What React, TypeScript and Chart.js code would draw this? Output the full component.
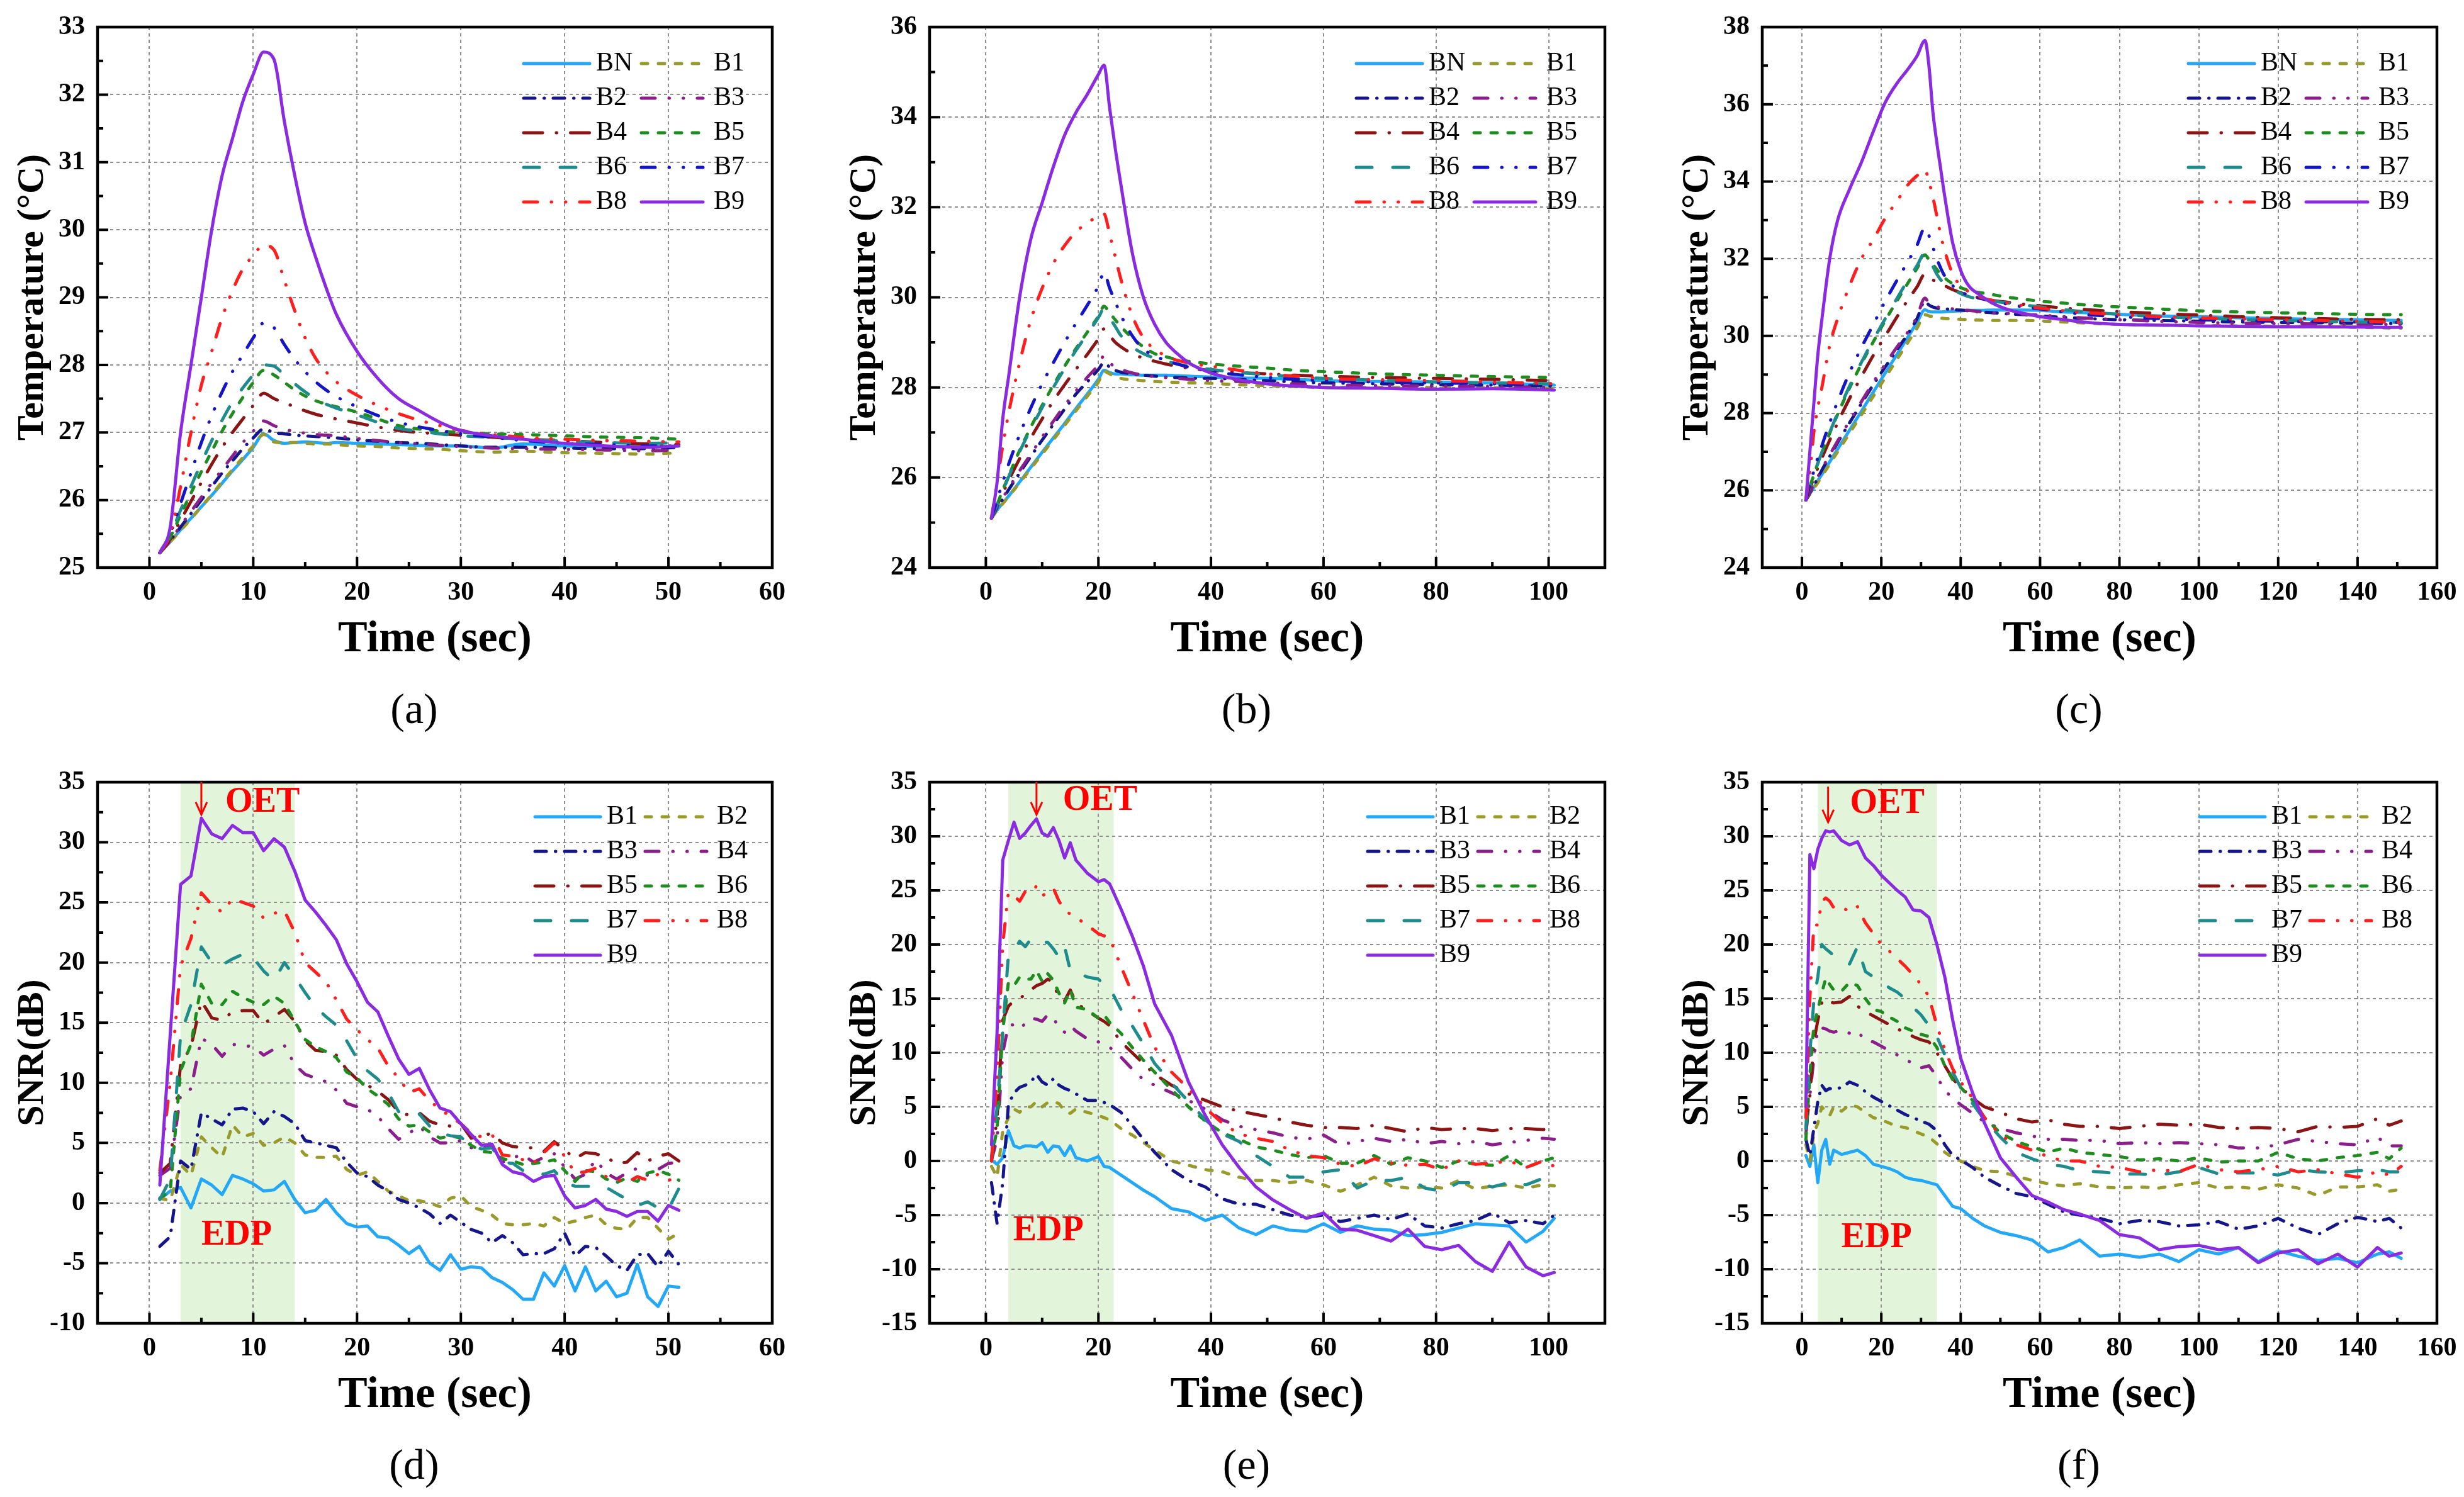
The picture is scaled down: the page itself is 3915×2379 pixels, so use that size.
import { useEffect, useRef } from "react"
import { Chart, registerables } from "chart.js"

Chart.register(...registerables)

const SERIF = '"Liberation Serif", "Times New Roman", serif'

// ---------- (a) temperature, 10 s excitation ----------
const aTime = [1, 2, 3, 4, 5, 6, 7, 8, 9, 10, 11, 12, 13, 14, 15, 16, 17, 18, 20, 22, 24, 26, 28, 30, 33, 36, 40, 44, 48, 51]
const aBN = [25.22, 25.38, 25.56, 25.73, 25.9, 26.07, 26.25, 26.43, 26.6, 26.78, 26.98, 26.88, 26.84, 26.85, 26.86, 26.85, 26.84, 26.85, 26.84, 26.83, 26.82, 26.81, 26.8, 26.8, 26.77, 26.83, 26.8, 26.79, 26.79, 26.8]
const aB1 = [25.22, 25.38, 25.55, 25.72, 25.9, 26.08, 26.27, 26.45, 26.63, 26.8, 26.97, 26.86, 26.85, 26.85, 26.84, 26.83, 26.83, 26.82, 26.8, 26.79, 26.77, 26.76, 26.75, 26.73, 26.71, 26.72, 26.7, 26.69, 26.68, 26.7]
const aB2 = [25.22, 25.4, 25.6, 25.8, 26.0, 26.2, 26.4, 26.58, 26.76, 26.92, 27.05, 27.0, 26.98, 26.96, 26.95, 26.94, 26.93, 26.92, 26.89, 26.87, 26.85, 26.84, 26.82, 26.8, 26.78, 26.78, 26.77, 26.76, 26.76, 26.78]
const aB3 = [25.22, 25.4, 25.62, 25.83, 26.04, 26.25, 26.45, 26.65, 26.85, 27.02, 27.17, 27.1, 27.05, 27.01, 26.99, 26.97, 26.96, 26.95, 26.91, 26.88, 26.85, 26.83, 26.81, 26.79, 26.77, 26.76, 26.75, 26.74, 26.73, 26.74]
const aB4 = [25.22, 25.42, 25.7, 25.98, 26.26, 26.53, 26.78, 27.0, 27.2, 27.4, 27.58, 27.5, 27.44, 27.38, 27.32, 27.27, 27.23, 27.2, 27.14, 27.08, 27.03, 27.0, 26.98, 26.96, 26.93, 26.9, 26.88, 26.85, 26.83, 26.82]
const aB5 = [25.22, 25.45, 25.78, 26.1, 26.42, 26.72, 27.02, 27.28, 27.52, 27.74, 27.92, 27.85, 27.74, 27.63, 27.54, 27.47, 27.42, 27.38, 27.3, 27.2, 27.1, 27.05, 27.02, 27.0, 26.98, 26.97, 26.95, 26.93, 26.92, 26.9]
const aB6 = [25.22, 25.48, 25.85, 26.2, 26.55, 26.88, 27.18, 27.45, 27.66, 27.85, 28.0, 27.98, 27.85, 27.72, 27.6, 27.5, 27.42, 27.36, 27.26, 27.15, 27.06, 27.02, 26.98, 26.95, 26.93, 26.9, 26.87, 26.85, 26.84, 26.85]
const aB7 = [25.22, 25.5, 25.95, 26.4, 26.85, 27.25, 27.6, 27.9, 28.15, 28.4, 28.62, 28.55, 28.3, 28.08, 27.9, 27.75, 27.63, 27.53, 27.38, 27.25, 27.15, 27.08, 27.03, 26.98, 26.93, 26.88, 26.84, 26.82, 26.8, 26.8]
const aB8 = [25.22, 25.5, 26.2, 27.0, 27.7, 28.2, 28.7, 29.1, 29.42, 29.62, 29.77, 29.7, 29.25, 28.8, 28.4, 28.1, 27.9, 27.75, 27.55, 27.4, 27.28, 27.18, 27.1, 27.03, 26.97, 26.93, 26.9, 26.88, 26.87, 26.86]
const aB9 = [25.22, 25.6, 27.0, 28.0, 29.0, 30.0, 30.8, 31.35, 31.9, 32.3, 32.63, 32.52, 31.6, 30.8, 30.1, 29.6, 29.15, 28.75, 28.2, 27.8, 27.5, 27.32, 27.15, 27.03, 26.95, 26.9, 26.84, 26.8, 26.78, 26.8]

// ---------- (b) temperature, 20 s excitation ----------
const bTime = [1, 2, 3, 4, 6, 8, 10, 12, 14, 16, 18, 20, 21, 22, 23, 24, 26, 28, 30, 32, 34, 36, 38, 40, 45, 50, 55, 60, 70, 80, 90, 101]
const bBN = [25.1, 25.28, 25.43, 25.58, 25.9, 26.23, 26.56, 26.88, 27.2, 27.53, 27.85, 28.18, 28.38, 28.33, 28.3, 28.3, 28.28, 28.27, 28.27, 28.27, 28.26, 28.25, 28.24, 28.23, 28.21, 28.2, 28.18, 28.15, 28.13, 28.12, 28.1, 28.05]
const bB1 = [25.1, 25.27, 25.42, 25.57, 25.88, 26.2, 26.52, 26.84, 27.16, 27.48, 27.8, 28.12, 28.36, 28.3, 28.25, 28.2, 28.17, 28.15, 28.13, 28.12, 28.11, 28.1, 28.1, 28.09, 28.06, 28.04, 28.02, 28.0, 28.0, 28.0, 27.99, 27.98]
const bB2 = [25.1, 25.33, 25.52, 25.72, 26.1, 26.47, 26.83, 27.18, 27.52, 27.85, 28.12, 28.4, 28.55, 28.45, 28.38, 28.34, 28.3, 28.27, 28.25, 28.23, 28.22, 28.21, 28.2, 28.2, 28.18, 28.15, 28.12, 28.1, 28.08, 28.06, 28.05, 28.03]
const bB3 = [25.1, 25.35, 25.55, 25.75, 26.15, 26.52, 26.9, 27.25, 27.6, 27.92, 28.22, 28.5, 28.7, 28.55, 28.45, 28.4, 28.32, 28.27, 28.24, 28.22, 28.2, 28.18, 28.17, 28.15, 28.13, 28.1, 28.08, 28.06, 28.04, 28.03, 28.02, 28.0]
const bB4 = [25.1, 25.38, 25.65, 25.92, 26.42, 26.88, 27.3, 27.7, 28.06, 28.4, 28.73, 29.08, 29.3, 29.15, 29.0, 28.9, 28.75, 28.65, 28.58, 28.52, 28.47, 28.43, 28.4, 28.38, 28.33, 28.3, 28.27, 28.25, 28.22, 28.2, 28.18, 28.15]
const bB5 = [25.1, 25.4, 25.72, 26.02, 26.6, 27.12, 27.6, 28.05, 28.47, 28.86, 29.22, 29.58, 29.8, 29.65, 29.5, 29.35, 29.1, 28.9, 28.75, 28.68, 28.62, 28.58, 28.55, 28.52, 28.47, 28.43, 28.38, 28.35, 28.3, 28.27, 28.24, 28.22]
const bB6 = [25.1, 25.4, 25.7, 26.0, 26.57, 27.08, 27.55, 28.0, 28.42, 28.82, 29.18, 29.55, 29.75, 29.55, 29.35, 29.15, 28.9, 28.75, 28.65, 28.58, 28.52, 28.47, 28.43, 28.4, 28.33, 28.28, 28.24, 28.2, 28.16, 28.12, 28.1, 28.08]
const bB7 = [25.1, 25.5, 25.9, 26.28, 26.95, 27.55, 28.08, 28.55, 29.0, 29.42, 29.82, 30.25, 30.55, 30.2, 29.9, 29.6, 29.15, 28.85, 28.7, 28.6, 28.52, 28.45, 28.4, 28.35, 28.28, 28.22, 28.18, 28.15, 28.12, 28.1, 28.08, 28.05]
const bB8 = [25.1, 25.9, 26.7, 27.4, 28.55, 29.5, 30.2, 30.75, 31.15, 31.45, 31.65, 31.8, 31.85, 31.4, 30.9, 30.4, 29.6, 29.1, 28.85, 28.7, 28.6, 28.55, 28.5, 28.47, 28.38, 28.3, 28.25, 28.2, 28.17, 28.15, 28.12, 28.08]
const bB9 = [25.1, 25.9, 27.3, 28.2, 30.0, 31.3, 32.1, 32.9, 33.6, 34.1, 34.5, 34.95, 35.15, 34.2, 33.3, 32.5, 31.0, 30.0, 29.4, 29.0, 28.75, 28.55, 28.42, 28.32, 28.17, 28.08, 28.03, 28.0, 27.98, 27.96, 27.97, 27.94]

// ---------- (c) temperature, 30 s excitation ----------
const cTime = [1, 2, 3, 4, 5, 7, 9, 12, 15, 18, 21, 24, 27, 29, 31, 32, 33, 34, 35, 36, 38, 40, 42, 45, 48, 52, 56, 60, 66, 72, 80, 90, 100, 110, 120, 130, 140, 151]
const cBN = [25.75, 25.92, 26.08, 26.25, 26.41, 26.74, 27.07, 27.56, 28.05, 28.55, 29.04, 29.53, 30.02, 30.35, 30.68, 30.63, 30.62, 30.62, 30.62, 30.63, 30.64, 30.65, 30.66, 30.66, 30.67, 30.67, 30.67, 30.66, 30.62, 30.6, 30.56, 30.52, 30.5, 30.47, 30.45, 30.43, 30.42, 30.4]
const cB1 = [25.75, 25.9, 26.05, 26.2, 26.36, 26.68, 27.0, 27.48, 27.96, 28.44, 28.92, 29.4, 29.88, 30.2, 30.55, 30.52, 30.5, 30.48, 30.46, 30.45, 30.44, 30.43, 30.42, 30.41, 30.4, 30.4, 30.4, 30.39, 30.36, 30.33, 30.3, 30.28, 30.27, 30.26, 30.25, 30.24, 30.22, 30.2]
const cB2 = [25.75, 25.93, 26.12, 26.32, 26.52, 26.88, 27.24, 27.75, 28.25, 28.74, 29.2, 29.65, 30.1, 30.45, 30.9, 30.8, 30.75, 30.72, 30.7, 30.7, 30.68, 30.67, 30.65, 30.62, 30.6, 30.57, 30.55, 30.52, 30.48, 30.45, 30.42, 30.4, 30.38, 30.36, 30.35, 30.34, 30.33, 30.32]
const cB3 = [25.75, 25.95, 26.15, 26.35, 26.55, 26.92, 27.28, 27.8, 28.3, 28.8, 29.27, 29.72, 30.15, 30.5, 30.98, 30.85, 30.8, 30.76, 30.73, 30.72, 30.7, 30.68, 30.66, 30.63, 30.6, 30.58, 30.56, 30.54, 30.5, 30.46, 30.42, 30.38, 30.35, 30.33, 30.32, 30.31, 30.3, 30.3]
const cB4 = [25.75, 26.05, 26.32, 26.58, 26.83, 27.3, 27.75, 28.38, 28.95, 29.5, 30.0, 30.5, 30.98, 31.27, 31.6, 31.5, 31.45, 31.4, 31.35, 31.3, 31.2, 31.12, 31.05, 30.98, 30.92, 30.87, 30.82, 30.78, 30.72, 30.68, 30.63, 30.58, 30.54, 30.5, 30.47, 30.45, 30.43, 30.42]
const cB5 = [25.75, 26.1, 26.4, 26.7, 26.97, 27.48, 27.97, 28.65, 29.28, 29.85, 30.4, 30.92, 31.42, 31.75, 32.1, 31.98, 31.85, 31.72, 31.6, 31.5, 31.35, 31.25, 31.18, 31.12, 31.07, 31.0, 30.95, 30.9, 30.85, 30.8, 30.75, 30.7, 30.65, 30.62, 30.6, 30.58, 30.56, 30.55]
const cB6 = [25.75, 26.1, 26.4, 26.7, 26.98, 27.5, 28.0, 28.7, 29.32, 29.9, 30.45, 30.98, 31.5, 31.82, 32.15, 32.0, 31.8, 31.6, 31.45, 31.35, 31.2, 31.1, 31.02, 30.95, 30.9, 30.85, 30.8, 30.75, 30.68, 30.62, 30.56, 30.5, 30.46, 30.43, 30.4, 30.38, 30.36, 30.35]
const cB7 = [25.75, 26.15, 26.5, 26.85, 27.15, 27.75, 28.3, 29.05, 29.7, 30.3, 30.9, 31.45, 31.98, 32.35, 32.8, 32.6, 32.3, 32.0, 31.75, 31.55, 31.3, 31.15, 31.05, 30.97, 30.9, 30.82, 30.75, 30.7, 30.62, 30.55, 30.5, 30.45, 30.42, 30.4, 30.38, 30.37, 30.36, 30.35]
const cB8 = [25.75, 26.5, 27.5, 28.15, 28.65, 29.75, 30.45, 31.3, 32.0, 32.5, 33.05, 33.5, 33.95, 34.15, 34.3, 34.0, 33.6, 33.1, 32.6, 32.2, 31.6, 31.3, 31.15, 31.0, 30.92, 30.85, 30.78, 30.72, 30.65, 30.6, 30.55, 30.5, 30.47, 30.44, 30.42, 30.4, 30.38, 30.35]
const cB9 = [25.75, 27.0, 28.25, 29.5, 30.4, 32.0, 33.0, 33.8, 34.5, 35.3, 36.05, 36.55, 36.95, 37.25, 37.65, 37.0, 35.8, 35.0, 34.3, 33.6, 32.4, 31.7, 31.3, 31.05, 30.85, 30.68, 30.58, 30.5, 30.42, 30.35, 30.3, 30.28, 30.26, 30.25, 30.24, 30.24, 30.23, 30.22]

// ---------- (d) SNR, 10 s excitation ----------
const dTime = [1, 2, 3, 4, 5, 6, 7, 8, 9, 10, 11, 12, 13, 14, 15, 16, 17, 18, 19, 20, 21, 22, 23, 24, 25, 26, 27, 28, 29, 30, 31, 32, 33, 34, 35, 36, 37, 38, 39, 40, 41, 42, 43, 44, 45, 46, 47, 48, 49, 50, 51]
const dB1 = [0.3, 1.0, 1.3, -0.4, 2.0, 1.5, 0.7, 2.3, 2.0, 1.6, 1.0, 1.1, 1.8, 0.3, -0.8, -0.6, 0.3, -0.8, -1.7, -2.0, -1.9, -2.8, -2.9, -3.5, -4.2, -3.6, -5.0, -5.6, -4.3, -5.5, -5.3, -5.4, -6.2, -6.6, -7.2, -8.0, -8.0, -5.8, -6.9, -5.2, -7.3, -5.3, -7.3, -6.5, -7.8, -7.5, -5.1, -7.8, -8.6, -6.9, -7.0]
const dB2 = [0.4, 0.2, 3.2, 2.3, 5.5, 4.6, 3.8, 6.5, 5.5, 5.8, 4.8, 5.0, 5.5, 5.0, 4.0, 3.8, 3.8, 3.9, 2.8, 2.3, 2.6, 1.8, 1.0, 0.6, 0.2, 0.2, 0.0, -0.3, 0.4, 0.6, -0.3, -0.6, -1.0, -1.7, -1.8, -1.8, -1.7, -1.9, -1.2, -1.7, -1.5, -1.2, -1.0, -1.8, -2.1, -2.2, -1.2, -1.2, -2.1, -3.0, -2.5]
const dB3 = [-3.6, -2.8, 3.5, 2.8, 7.5, 7.0, 6.5, 7.8, 7.9, 7.6, 6.6, 7.6, 7.2, 6.6, 5.2, 5.0, 4.8, 4.6, 3.4, 2.5, 2.2, 1.5, 1.0, 0.3, 0.0, -0.4, -0.9, -1.7, -1.0, -1.6, -2.2, -2.5, -3.3, -2.7, -3.3, -4.3, -4.2, -4.2, -3.8, -2.5, -4.4, -3.6, -3.7, -4.4, -5.2, -5.6, -4.3, -4.2, -5.3, -4.0, -5.1]
const dB4 = [2.3, 2.9, 9.0, 9.5, 13.7, 13.2, 12.2, 13.2, 13.1, 13.0, 12.3, 12.8, 13.1, 11.5, 10.7, 10.4, 10.1, 9.4, 8.3, 8.0, 7.8, 7.2, 6.2, 5.3, 5.8, 6.4, 5.5, 5.0, 5.0, 5.2, 4.6, 4.6, 4.8, 3.4, 3.8, 4.0, 3.4, 3.8, 4.1, 3.0, 2.0, 2.4, 3.6, 2.5, 2.0, 2.5, 2.9, 2.3, 2.8, 3.3, 3.4]
const dB5 = [2.5, 3.3, 11.5, 13.0, 16.8, 15.4, 15.2, 15.9, 16.0, 16.0, 14.9, 15.5, 16.1, 15.1, 13.5, 12.7, 12.6, 12.3, 11.1, 10.3, 9.8, 9.3, 8.6, 7.6, 7.3, 7.5, 6.8, 6.5, 6.4, 6.6, 5.4, 5.6, 5.8, 5.0, 4.7, 4.6, 4.6, 4.3, 5.1, 4.4, 3.7, 4.2, 4.1, 3.8, 3.3, 3.4, 4.2, 3.5, 3.9, 4.1, 3.5]
const dB6 = [0.4, 1.0, 11.0, 13.2, 18.2, 16.6, 16.5, 17.6, 17.1, 16.7, 16.5, 17.2, 16.6, 15.1, 13.6, 13.0, 12.6, 12.1, 10.9, 10.4, 9.5, 8.9, 8.2, 7.0, 6.4, 6.5, 5.9, 5.4, 5.6, 5.4, 4.8, 4.3, 4.2, 3.7, 3.5, 3.2, 3.3, 3.4, 3.6, 2.7, 1.8, 2.7, 2.6, 2.0, 1.7, 2.1, 1.8, 2.5, 2.7, 2.4, 1.9]
const dB7 = [0.3, 2.0, 14.0, 16.5, 21.3, 20.0, 19.8, 20.3, 20.7, 20.4, 19.3, 18.5, 20.0, 18.8, 17.5, 16.3, 15.5, 14.8, 13.5, 12.0, 11.0, 10.3, 9.2, 7.6, 7.4, 7.4, 6.4, 5.8, 5.6, 5.5, 4.7, 4.5, 4.6, 3.4, 3.3, 2.7, 2.5, 2.4, 2.7, 1.7, 1.4, 1.4, 1.4, 1.3, 0.8, 0.3, -0.2, 0.1, -0.4, -0.5, 1.2]
const dB8 = [2.7, 10.0, 19.7, 22.0, 25.8, 24.8, 24.2, 25.3, 25.0, 24.7, 23.7, 24.1, 24.3, 22.5, 20.0, 19.2, 18.4, 16.9, 15.3, 14.4, 13.6, 12.9, 11.4, 10.4, 9.2, 9.5, 8.5, 7.8, 7.2, 6.6, 5.8, 5.5, 5.7, 4.0, 3.9, 3.6, 3.3, 4.2, 5.0, 3.9, 2.5, 2.6, 2.9, 2.2, 2.0, 1.7, 2.2, 1.9, 2.4, 1.9, 2.1]
const dB9 = [1.5, 14.0, 26.5, 27.2, 32.0, 30.7, 30.3, 31.4, 30.8, 30.8, 29.3, 30.3, 29.6, 27.6, 25.2, 24.2, 23.1, 21.9, 19.9, 18.4, 16.7, 15.9, 13.9, 12.0, 10.7, 11.2, 9.4, 7.9, 7.6, 6.6, 5.7, 4.8, 4.9, 3.2, 2.6, 2.4, 1.8, 2.2, 2.3, 0.6, -0.4, -0.2, 0.3, -0.5, -0.7, -1.1, -0.7, -0.7, -1.5, -0.2, -0.6]

// ---------- (e) SNR, 20 s excitation ----------
const eTime = [1, 2, 3, 4, 5, 6, 7, 8, 9, 10, 11, 12, 13, 14, 15, 16, 18, 20, 21, 22, 24, 26, 28, 30, 33, 36, 39, 42, 45, 48, 51, 54, 57, 60, 63, 66, 69, 72, 75, 78, 81, 84, 87, 90, 93, 96, 99, 101]
const eB1 = [0.1, -0.3, 0.3, 2.8, 1.4, 1.2, 1.4, 1.4, 1.3, 1.7, 0.8, 1.4, 1.3, 0.5, 1.4, 0.3, 0.0, 0.4, -0.5, -0.6, -1.3, -2.0, -2.7, -3.3, -4.4, -4.7, -5.5, -5.0, -6.2, -6.8, -6.0, -6.4, -6.5, -5.8, -6.6, -6.0, -6.3, -6.4, -6.9, -6.8, -6.6, -6.2, -5.8, -5.9, -6.0, -7.5, -6.5, -5.3]
const eB2 = [-0.5, -1.5, 2.8, 4.0, 4.8, 4.5, 5.0, 5.0, 5.5, 5.0, 5.4, 5.5, 5.3, 4.6, 4.4, 4.8, 4.5, 4.2, 4.0, 3.8, 3.0, 2.4, 1.7, 1.0, 0.0, -0.4, -0.8, -1.0, -1.5, -1.8, -1.8, -2.0, -1.8, -2.2, -2.8, -2.2, -1.5, -2.3, -2.5, -2.4, -2.5, -1.8, -2.6, -2.3, -2.2, -2.5, -2.2, -2.3]
const eB3 = [-2.0, -5.8, -2.0, 5.2, 6.3, 6.8, 7.0, 7.3, 8.0, 7.3, 7.0, 7.6, 7.0, 6.7, 6.5, 6.2, 5.6, 5.6, 5.4, 5.2, 4.5, 3.3, 2.0, 0.8, -0.8, -1.8, -2.4, -3.5, -4.0, -4.0, -4.5, -5.0, -5.2, -5.0, -5.6, -5.3, -5.0, -5.4, -4.9, -6.0, -6.2, -5.8, -5.5, -4.8, -5.7, -5.5, -5.8, -5.0]
const eB4 = [0.1, 2.0, 10.0, 12.5, 12.6, 12.2, 12.7, 13.2, 13.1, 12.9, 13.5, 13.3, 12.2, 11.9, 12.5, 12.0, 11.3, 11.0, 10.8, 10.5, 9.6, 8.5, 7.5, 7.0, 6.3, 5.6, 4.8, 3.8, 3.2, 2.9, 2.6, 2.2, 2.0, 2.4, 1.5, 1.8, 2.1, 1.8, 2.0, 1.6, 1.8, 1.6, 1.8, 1.5, 1.7, 1.9, 2.1, 2.0]
const eB5 = [0.0, 4.0, 13.0, 14.3, 14.8, 15.0, 15.4, 15.8, 16.2, 16.4, 16.8, 16.5, 15.0, 14.8, 15.8, 14.6, 13.9, 13.2, 12.9, 12.5, 11.0, 10.0, 9.0, 8.0, 7.0, 6.2, 5.6, 5.0, 4.6, 4.3, 4.0, 3.6, 3.3, 3.1, 3.1, 3.0, 3.3, 3.0, 2.7, 3.1, 2.9, 3.0, 3.0, 2.8, 3.0, 3.0, 2.9, 2.9]
const eB6 = [0.2, 3.0, 12.0, 16.5, 16.2, 17.0, 16.8, 16.8, 17.6, 16.6, 17.3, 16.7, 15.5, 14.6, 15.8, 14.2, 14.0, 13.2, 13.5, 12.8, 11.8, 10.5, 9.3, 8.2, 6.6, 5.0, 3.7, 2.6, 2.0, 1.3, 1.0, 0.6, 0.3, 0.5, -0.2, -0.2, 0.5, -0.3, 0.3, 0.0, -0.6, 0.0, -0.3, -0.4, 0.5, -0.6, 0.0, 0.3]
const eB7 = [0.3, 5.0, 12.0, 19.0, 19.5, 20.3, 19.8, 20.5, 20.6, 20.2, 20.2, 19.6, 18.8, 19.8, 17.6, 17.5, 17.0, 16.8, 16.3, 16.0, 14.0, 12.5, 10.8, 9.0, 7.2, 5.5, 3.8, 2.5, 1.8, 0.5, -0.5, -1.5, -1.5, -1.0, -0.8, -2.5, -1.8, -1.8, -1.5, -2.5, -2.8, -2.0, -2.0, -2.4, -2.0, -2.2, -1.6, -1.6]
const eB8 = [0.0, 8.0, 20.0, 24.8, 24.5, 24.0, 24.9, 24.8, 25.4, 24.5, 24.8, 25.2, 24.0, 23.2, 22.8, 22.5, 21.8, 21.0, 20.8, 20.6, 18.0, 15.5, 13.0, 10.5, 8.2, 6.7, 4.9, 3.5, 2.5, 2.1, 1.8, 1.0, 0.5, 0.3, -0.3, -0.5, 0.2, -0.2, -0.4, -0.3, -0.8, 0.0, -0.3, -0.2, 0.0, -0.6, 0.0, -0.5]
const eB9 = [1.5, 12.0, 27.8, 29.6, 31.3, 29.8, 30.3, 31.0, 31.6, 30.3, 30.0, 30.8, 29.6, 28.0, 29.4, 27.8, 26.6, 25.8, 26.0, 25.6, 23.3, 20.8, 18.0, 14.5, 11.6, 7.3, 4.2, 1.5, -0.6, -2.4, -3.6, -4.5, -5.3, -4.8, -6.3, -6.4, -6.9, -7.4, -6.3, -7.9, -8.2, -7.8, -9.3, -10.2, -7.5, -9.8, -10.6, -10.3]

// ---------- (f) SNR, 30 s excitation ----------
const fTime = [1, 2, 3, 4, 5, 6, 7, 8, 10, 12, 14, 16, 18, 20, 22, 24, 26, 28, 30, 32, 34, 36, 38, 40, 43, 46, 50, 54, 58, 62, 66, 70, 75, 80, 85, 90, 95, 100, 105, 110, 115, 120, 125, 130, 135, 140, 145, 148, 151]
const fB1 = [0.5, -0.5, 1.5, -2.0, 1.0, 2.0, -0.3, 1.0, 0.6, 0.8, 1.0, 0.5, -0.3, -0.5, -0.7, -1.0, -1.5, -1.7, -1.8, -2.0, -2.2, -3.2, -4.2, -4.4, -5.3, -6.0, -6.6, -6.9, -7.3, -8.4, -8.0, -7.3, -8.8, -8.6, -8.9, -8.6, -9.3, -8.2, -8.6, -8.0, -9.3, -8.3, -8.8, -9.2, -9.0, -9.4, -8.6, -8.4, -9.0]
const fB2 = [1.5, 0.0, 2.5, 3.5, 5.0, 4.6, 4.2, 5.0, 4.6, 5.2, 5.0, 4.5, 4.0, 3.8, 3.5, 3.2, 3.1, 2.8, 2.5, 2.2, 1.6, 0.8, 0.3, 0.0, -0.5, -0.9, -1.0, -1.4, -1.8, -2.1, -2.3, -2.1, -2.4, -2.5, -2.4, -2.5, -2.2, -2.0, -2.5, -2.4, -2.6, -2.2, -2.5, -3.2, -2.4, -2.4, -2.2, -2.8, -2.6]
const fB3 = [2.0, 0.5, 3.0, 5.5, 7.0, 6.5, 6.7, 6.6, 6.8, 7.3, 7.0, 6.4, 5.9, 5.5, 5.1, 4.7, 4.3, 4.0, 3.7, 3.4, 2.8, 1.5, 0.5, 0.1, -0.6, -1.5, -2.3, -3.0, -3.3, -4.0, -4.7, -5.0, -5.3, -5.8, -5.5, -5.6, -6.0, -5.9, -5.6, -6.3, -6.0, -5.3, -6.2, -6.8, -5.8, -5.2, -5.6, -5.3, -6.2]
const fB4 = [2.5, 6.0, 9.5, 12.3, 12.3, 12.2, 12.0, 11.9, 12.1, 11.8, 12.0, 11.1, 11.0, 10.6, 10.2, 9.8, 9.4, 9.0, 8.6, 8.8, 7.8, 6.5, 5.8, 5.2, 4.4, 3.6, 3.0, 2.6, 2.3, 2.0, 2.0, 1.9, 1.9, 1.6, 1.7, 1.6, 1.7, 1.6, 1.5, 1.2, 1.2, 1.5, 2.0, 1.8, 1.6, 1.5, 2.2, 1.4, 1.4]
const fB5 = [3.0, 6.0, 11.0, 13.0, 14.6, 15.0, 14.7, 14.6, 14.7, 15.2, 14.3, 13.8, 13.4, 13.0, 12.6, 12.2, 11.9, 11.5, 11.2, 11.0, 10.0, 8.8, 7.6, 6.8, 5.8, 5.0, 4.5, 3.9, 3.6, 3.8, 3.4, 3.2, 3.2, 3.0, 3.2, 3.4, 3.3, 3.4, 3.1, 3.0, 3.1, 3.0, 2.7, 3.2, 3.1, 3.2, 3.9, 3.3, 3.7]
const fB6 = [2.0, 8.0, 12.5, 14.0, 15.5, 16.9, 16.3, 15.8, 15.7, 16.5, 16.2, 15.0, 14.0, 13.8, 13.3, 12.9, 12.3, 12.0, 11.7, 11.5, 10.5, 8.8, 7.5, 6.8, 5.6, 4.0, 2.6, 1.8, 1.3, 0.8, 1.2, 0.8, 0.6, 0.4, 0.1, 0.2, 0.0, 0.3, -0.1, 0.0, 0.0, 0.8, 0.2, 0.0, 0.3, 0.5, 0.8, 0.2, 1.2]
const fB7 = [3.0, 10.0, 14.8, 17.0, 20.0, 19.6, 19.3, 19.0, 18.7, 18.2, 19.8, 17.5, 17.0, 16.6, 16.0, 15.6, 15.0, 14.2, 13.5, 12.5, 11.5, 9.8, 8.2, 6.8, 5.3, 3.8, 2.2, 0.8, 0.2, -0.3, -0.5, -0.9, -1.0, -1.2, -1.2, -1.3, -1.0, -0.6, -1.2, -1.1, -1.1, -1.3, -0.8, -1.0, -1.1, -0.9, -0.8, -1.0, -1.0]
const fB8 = [4.0, 15.0, 21.8, 21.8, 24.0, 24.3, 24.0, 23.4, 23.5, 23.0, 23.5, 22.0, 21.0, 20.0, 19.4, 18.7, 18.0, 17.2, 16.3, 15.2, 12.5, 10.3, 8.5, 7.3, 5.8, 4.0, 2.4, 1.5, 1.0, 0.4, 0.0, 0.0, -0.5, -0.6, -1.0, -0.8, -1.0, -0.3, -0.8, -1.0, -0.8, -0.5, -1.0, -0.8, -1.2, -1.5, -1.0, -1.3, -0.5]
const fB9 = [5.0, 28.3, 27.0, 28.8, 29.8, 30.5, 30.4, 30.5, 29.6, 29.2, 29.5, 28.0, 27.3, 26.4, 25.7, 25.0, 24.4, 23.2, 23.1, 22.5, 20.0, 17.0, 13.0, 9.5, 6.3, 3.5, 0.3, -1.5, -3.2, -3.8, -4.5, -4.9, -5.5, -6.8, -7.1, -8.2, -7.9, -7.8, -8.2, -8.0, -9.4, -8.5, -8.2, -9.5, -8.6, -9.8, -8.0, -8.8, -8.5]

// x-axis tick labels
const xTicks50 = [0, 10, 20, 30, 40, 50, 60]
const xTicks100 = [0, 20, 40, 60, 80, 100]
const xTicks150 = [0, 20, 40, 60, 80, 100, 120, 140, 160]

const TEMP_LABELS = ["BN", "B1", "B2", "B3", "B4", "B5", "B6", "B7", "B8", "B9"]
const SNR_LABELS = ["B1", "B2", "B3", "B4", "B5", "B6", "B7", "B8", "B9"]

type LineStyle = { color: string; dash: number[] }

// line looks (dash lengths in px, drawn with round caps)
const skyBlue: LineStyle = { color: "#22A8F6", dash: [] }
const olive: LineStyle = { color: "#9A9A2A", dash: [10, 17] }
const navy: LineStyle = { color: "#16168C", dash: [18, 14.5, 0.5, 14] }
const purple: LineStyle = { color: "#8C1E8C", dash: [22, 22, 0.5, 22, 0.5, 22] }
const darkRed: LineStyle = { color: "#8B1414", dash: [30, 22, 0.5, 22] }
const green: LineStyle = { color: "#1E8C1E", dash: [10, 17] }
const teal: LineStyle = { color: "#1E8C8C", dash: [25, 33] }
const blue: LineStyle = { color: "#1414C8", dash: [22, 22, 0.5, 22, 0.5, 22] }
const red: LineStyle = { color: "#FF1E1E", dash: [22, 22, 0.5, 22, 0.5, 22] }
const violet: LineStyle = { color: "#8A2BE2", dash: [] }

const TEMP_STYLES = [skyBlue, olive, navy, purple, darkRed, green, teal, blue, red, violet]
const SNR_STYLES = [skyBlue, olive, navy, purple, darkRed, green, teal, red, violet]

// plot-area boxes on the page
const COLS = [
  { left: 155, right: 1227 },
  { left: 1477, right: 2550 },
  { left: 2800, right: 3872 },
]
const ROWS = [
  { top: 43, bottom: 902, capY: 1126 },
  { top: 1243, bottom: 2103, capY: 2327 },
]
const Y_AXIS_W = 155
const X_AXIS_H = 200
const PAD_TOP = 20
const PAD_RIGHT = 40

type Legend = { rowTop: number; rowGap: number; cols: number[][] }
const TEMP_LEGEND: Legend = { rowTop: 58, rowGap: 55, cols: [[-395, -290, -280], [-208, -110, -93]] }
const SNR_LEGEND: Legend = { rowTop: 55, rowGap: 55, cols: [[-377, -273, -263], [-202, -104, -88]] }

type Notes = {
  band: [number, number]
  arrow: { x: number; from: number; to: number }
  oet: [number, number]
  edp: [number, number]
}

type PanelSpec = {
  caption: string
  col: number
  row: number
  time: number[]
  series: number[][]
  labels: string[]
  styles: LineStyle[]
  x: [number, number, number]
  xTicks: number[]
  y: [number, number, number]
  yTitle: string
  smooth: boolean
  legend: Legend
  notes?: Notes
}

const PANELS: PanelSpec[] = [
  {
    caption: "(a)", col: 0, row: 0, time: aTime,
    series: [aBN, aB1, aB2, aB3, aB4, aB5, aB6, aB7, aB8, aB9],
    labels: TEMP_LABELS, styles: TEMP_STYLES, x: [-5, 60, 10], xTicks: xTicks50, y: [25, 33, 1],
    yTitle: "Temperature (°C)", smooth: true, legend: TEMP_LEGEND,
  },
  {
    caption: "(b)", col: 1, row: 0, time: bTime,
    series: [bBN, bB1, bB2, bB3, bB4, bB5, bB6, bB7, bB8, bB9],
    labels: TEMP_LABELS, styles: TEMP_STYLES, x: [-10, 110, 20], xTicks: xTicks100, y: [24, 36, 2],
    yTitle: "Temperature (°C)", smooth: true, legend: TEMP_LEGEND,
  },
  {
    caption: "(c)", col: 2, row: 0, time: cTime,
    series: [cBN, cB1, cB2, cB3, cB4, cB5, cB6, cB7, cB8, cB9],
    labels: TEMP_LABELS, styles: TEMP_STYLES, x: [-10, 160, 20], xTicks: xTicks150, y: [24, 38, 2],
    yTitle: "Temperature (°C)", smooth: true, legend: TEMP_LEGEND,
  },
  {
    caption: "(d)", col: 0, row: 1, time: dTime,
    series: [dB1, dB2, dB3, dB4, dB5, dB6, dB7, dB8, dB9],
    labels: SNR_LABELS, styles: SNR_STYLES, x: [-5, 60, 10], xTicks: xTicks50, y: [-10, 35, 5],
    yTitle: "SNR(dB)", smooth: false, legend: SNR_LEGEND,
    notes: { band: [3, 14], arrow: { x: 5, from: 35, to: 32.3 }, oet: [10.9, 33.3], edp: [8.4, -2.7] },
  },
  {
    caption: "(e)", col: 1, row: 1, time: eTime,
    series: [eB1, eB2, eB3, eB4, eB5, eB6, eB7, eB8, eB9],
    labels: SNR_LABELS, styles: SNR_STYLES, x: [-10, 110, 20], xTicks: xTicks100, y: [-15, 35, 5],
    yTitle: "SNR(dB)", smooth: false, legend: SNR_LEGEND,
    notes: { band: [4, 22.7], arrow: { x: 9, from: 35, to: 32 }, oet: [20.3, 33.3], edp: [11.1, -6.5] },
  },
  {
    caption: "(f)", col: 2, row: 1, time: fTime,
    series: [fB1, fB2, fB3, fB4, fB5, fB6, fB7, fB8, fB9],
    labels: SNR_LABELS, styles: SNR_STYLES, x: [-10, 160, 20], xTicks: xTicks150, y: [-15, 35, 5],
    yTitle: "SNR(dB)", smooth: false, legend: SNR_LEGEND,
    notes: { band: [4, 34], arrow: { x: 6.6, from: 34.6, to: 31.3 }, oet: [21.5, 33.0], edp: [18.8, -7.1] },
  },
]

function minorValues(ticks: { value: number }[], step: number, min: number, max: number) {
  const out: number[] = []
  for (const t of ticks) {
    for (const v of [t.value - step / 2, t.value + step / 2]) {
      if (v > min && v < max && !out.includes(v)) out.push(v)
    }
  }
  return out
}

function makePlugins(spec: PanelSpec) {
  const band = {
    id: "edpBand",
    beforeDraw(chart: any) {
      if (!spec.notes) return
      const { ctx, chartArea: a, scales } = chart
      const x0 = scales.x.getPixelForValue(spec.notes.band[0])
      const x1 = scales.x.getPixelForValue(spec.notes.band[1])
      ctx.save()
      ctx.fillStyle = "#E2F4DA"
      ctx.fillRect(x0, a.top, x1 - x0, a.bottom - a.top)
      ctx.restore()
    },
  }

  const frame = {
    id: "frameTicks",
    afterDatasetsDraw(chart: any) {
      const { ctx, chartArea: a, scales } = chart
      const xs = scales.x
      const ys = scales.y
      ctx.save()
      ctx.strokeStyle = "#000"
      ctx.lineWidth = 4
      ctx.beginPath()
      const xMajor = xs.ticks.map((t: any) => t.value).filter((v: number) => v > spec.x[0] && v < spec.x[1])
      const yMajor = ys.ticks.map((t: any) => t.value).filter((v: number) => v > spec.y[0] && v < spec.y[1])
      const xMinor = minorValues(xs.ticks, spec.x[2], spec.x[0], spec.x[1])
      const yMinor = minorValues(ys.ticks, spec.y[2], spec.y[0], spec.y[1])
      const xMark = (v: number, len: number) => {
        const px = xs.getPixelForValue(v)
        ctx.moveTo(px, a.bottom)
        ctx.lineTo(px, a.bottom - len)
      }
      const yMark = (v: number, len: number) => {
        const py = ys.getPixelForValue(v)
        ctx.moveTo(a.left, py)
        ctx.lineTo(a.left + len, py)
      }
      xMajor.forEach((v: number) => xMark(v, 17))
      xMinor.forEach((v: number) => xMark(v, 9))
      yMajor.forEach((v: number) => yMark(v, 17))
      yMinor.forEach((v: number) => yMark(v, 9))
      ctx.stroke()
      ctx.lineWidth = 4.5
      ctx.strokeRect(a.left, a.top, a.right - a.left, a.bottom - a.top)
      ctx.restore()
    },
  }

  const notes = {
    id: "oetNotes",
    afterDatasetsDraw(chart: any) {
      const n = spec.notes
      if (!n) return
      const { ctx, scales } = chart
      const xs = scales.x
      const ys = scales.y
      ctx.save()
      ctx.strokeStyle = "#FF0000"
      ctx.fillStyle = "#FF0000"
      ctx.lineWidth = 3
      const ax = xs.getPixelForValue(n.arrow.x)
      const top = ys.getPixelForValue(n.arrow.from)
      const tip = ys.getPixelForValue(n.arrow.to)
      ctx.beginPath()
      ctx.moveTo(ax, top)
      ctx.lineTo(ax, tip)
      ctx.moveTo(ax - 9, tip - 20)
      ctx.lineTo(ax, tip)
      ctx.lineTo(ax + 9, tip - 20)
      ctx.stroke()
      ctx.font = `bold 56px ${SERIF}`
      ctx.textAlign = "center"
      ctx.textBaseline = "middle"
      ctx.fillText("OET", xs.getPixelForValue(n.oet[0]), ys.getPixelForValue(n.oet[1]))
      ctx.fillText("EDP", xs.getPixelForValue(n.edp[0]), ys.getPixelForValue(n.edp[1]))
      ctx.restore()
    },
  }

  const legend = {
    id: "insideLegend",
    afterDraw(chart: any) {
      const { ctx, chartArea: a } = chart
      const lg = spec.legend
      chart.data.datasets.forEach((ds: any, i: number) => {
        const c = lg.cols[i % 2]
        const y = a.top + lg.rowTop + Math.floor(i / 2) * lg.rowGap
        ctx.save()
        ctx.strokeStyle = ds.borderColor
        ctx.lineWidth = ds.borderWidth
        ctx.lineCap = "round"
        ctx.setLineDash(ds.borderDash)
        ctx.beginPath()
        ctx.moveTo(a.right + c[0], y)
        ctx.lineTo(a.right + c[1], y)
        ctx.stroke()
        ctx.setLineDash([])
        ctx.fillStyle = "#000"
        ctx.font = `42px ${SERIF}`
        ctx.textAlign = "left"
        ctx.textBaseline = "middle"
        ctx.fillText(ds.label, a.right + c[2], y)
        ctx.restore()
      })
    },
  }

  return [band, frame, notes, legend]
}

function Panel({ spec }: { spec: PanelSpec }) {
  const chartRef = useRef<HTMLCanvasElement>(null)
  const col = COLS[spec.col]
  const row = ROWS[spec.row]

  useEffect(() => {
    if (!chartRef.current) return
    const tickFont = { family: SERIF, size: 42, weight: "bold" as const, lineHeight: 1.2 }
    const grid = { color: "#8f8f8f", lineWidth: 2, drawTicks: false }
    const border = { display: false, dash: [5, 5] }

    const chart = new Chart(chartRef.current, {
      type: "line",
      data: {
        datasets: spec.series.map((values, i) => ({
          label: spec.labels[i],
          data: spec.time.map((t, k) => ({ x: t, y: values[k] })),
          borderColor: spec.styles[i].color,
          borderDash: spec.styles[i].dash,
          borderWidth: 5,
          borderCapStyle: "round",
          borderJoinStyle: "round",
          pointRadius: 0,
          fill: false,
          tension: 0,
          cubicInterpolationMode: spec.smooth ? "monotone" : "default",
          order: spec.series.length - i,
        })),
      },
      options: {
        responsive: true,
        maintainAspectRatio: false,
        animation: false,
        devicePixelRatio: 1,
        events: [],
        layout: { padding: { left: 0, right: PAD_RIGHT, top: PAD_TOP, bottom: 0 } },
        plugins: { legend: { display: false }, tooltip: { enabled: false } },
        scales: {
          x: {
            type: "linear",
            min: spec.x[0],
            max: spec.x[1],
            afterBuildTicks: (s: any) => {
              s.ticks = spec.xTicks.map((v) => ({ value: v }))
            },
            afterFit: (s: any) => {
              s.height = X_AXIS_H
              s.paddingLeft = 0
              s.paddingRight = 0
            },
            ticks: {
              autoSkip: false,
              maxRotation: 0,
              padding: 15,
              color: "#000",
              font: tickFont,
            },
            grid,
            border,
            title: {
              display: true,
              text: "Time (sec)",
              color: "#000",
              font: { family: SERIF, size: 70, weight: "bold", lineHeight: 1.2 },
              padding: { top: 0, bottom: 43 },
            },
          },
          y: {
            type: "linear",
            min: spec.y[0],
            max: spec.y[1],
            afterFit: (s: any) => {
              s.width = Y_AXIS_W
              s.paddingTop = 0
              s.paddingBottom = 0
            },
            ticks: {
              stepSize: spec.y[2],
              includeBounds: false,
              autoSkip: false,
              padding: 20,
              color: "#000",
              font: tickFont,
            },
            grid,
            border,
            title: {
              display: true,
              text: spec.yTitle,
              color: "#000",
              font: { family: SERIF, size: 60, weight: "bold", lineHeight: 1.2 },
              padding: { top: 16, bottom: 0 },
            },
          },
        },
      },
      plugins: makePlugins(spec),
    } as any)

    return () => chart.destroy()
  }, [spec])

  const plotW = col.right - col.left
  const plotH = row.bottom - row.top
  const capX = (col.left + col.right) / 2 - 33

  return (
    <>
      <div
        style={{
          position: "absolute",
          left: col.left - Y_AXIS_W,
          top: row.top - PAD_TOP,
          width: Y_AXIS_W + plotW + PAD_RIGHT,
          height: PAD_TOP + plotH + X_AXIS_H,
        }}
      >
        <canvas ref={chartRef} />
      </div>
      <div
        style={{
          position: "absolute",
          left: capX - 100,
          top: row.capY - 40,
          width: 200,
          height: 80,
          lineHeight: "80px",
          textAlign: "center",
          fontFamily: SERIF,
          fontSize: 68,
          color: "#000",
        }}
      >
        {spec.caption}
      </div>
    </>
  )
}

export default function App() {
  return (
    <div
      style={{
        position: "absolute",
        left: 0,
        top: 0,
        width: 3915,
        height: 2379,
        overflow: "hidden",
        background: "#fff",
      }}
    >
      {PANELS.map((p) => (
        <Panel key={p.caption} spec={p} />
      ))}
    </div>
  )
}
